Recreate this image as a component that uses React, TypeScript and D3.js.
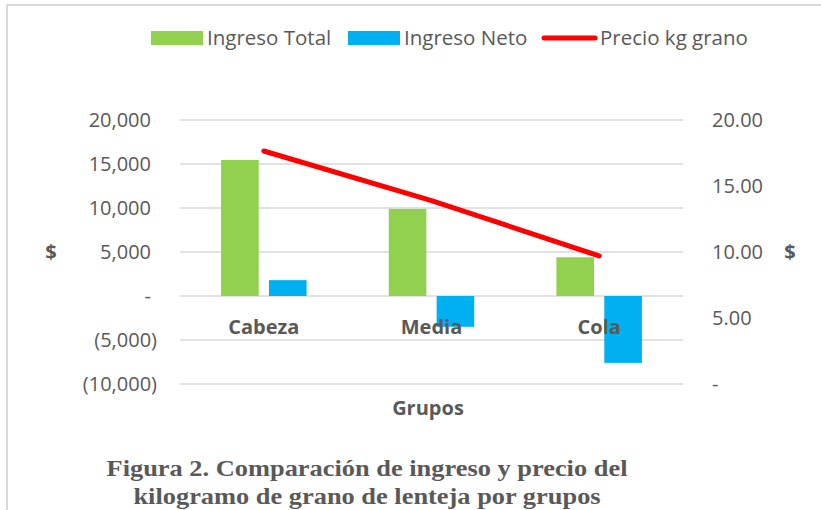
import React, { useEffect, useRef } from "react";
import * as d3 from "d3";

const categories = ["Cabeza", "Media", "Cola"];
const ingresoTotal = [15450, 9900, 4400];
const ingresoNeto = [1800, -3500, -7600];
const precioKg = [17.65, 13.9, 9.7];
const leftTicks = [-10000, -5000, 0, 5000, 10000, 15000, 20000];
const rightTicks = [0, 5, 10, 15, 20];

const GREEN = "#92d050";
const BLUE = "#00b0f0";
const RED = "#ff0000";
const GRAY = "#595959";
const GRID = "#d9d9d9";
const FONT = "'Open Sans', sans-serif";

const App = () => {
  const ref = useRef<SVGSVGElement>(null);

  useEffect(() => {
    draw();
  });

  const draw = () => {
    const svg = d3.select(ref.current);
    svg.selectAll("*").remove();

    const left = 180;
    const right = 683;
    const top = 120;
    const bottom = 384;

    const yLeft = d3.scaleLinear().domain([-10000, 20000]).range([bottom, top]);
    const yRight = d3.scaleLinear().domain([0, 20]).range([bottom, top]);
    const x0 = d3.scaleBand().domain(categories).range([left, right]);
    const bw = x0.bandwidth();
    const x1 = d3
      .scaleBand()
      .domain(["total", "neto"])
      .range([bw * 0.245, bw * 0.755])
      .paddingInner(0.214);

    // border
    svg
      .append("path")
      .attr("d", "M7,510 V5 H821")
      .attr("fill", "none")
      .attr("stroke", GRID)
      .attr("stroke-width", 2);

    // gridlines
    svg
      .selectAll("line.grid")
      .data(leftTicks)
      .enter()
      .append("line")
      .attr("x1", left)
      .attr("x2", right)
      .attr("y1", (d) => yLeft(d))
      .attr("y2", (d) => yLeft(d))
      .attr("stroke", GRID)
      .attr("stroke-width", 1.5);

    // left tick labels
    svg
      .selectAll("text.yl")
      .data(leftTicks)
      .enter()
      .append("text")
      .attr("x", (d) => (d < 0 ? 157 : 151))
      .attr("y", (d) => yLeft(d) + 7)
      .attr("text-anchor", "end")
      .attr("font-family", FONT)
      .attr("font-size", 20)
      .attr("fill", GRAY)
      .text((d) =>
        d === 0 ? "-" : d < 0 ? `(${d3.format(",")(-d)})` : d3.format(",")(d)
      );

    // right tick labels
    svg
      .selectAll("text.yr")
      .data(rightTicks)
      .enter()
      .append("text")
      .attr("x", 712)
      .attr("y", (d) => yRight(d) + 7)
      .attr("font-family", FONT)
      .attr("font-size", 20)
      .attr("fill", GRAY)
      .text((d) => (d === 0 ? "-" : d3.format(".2f")(d)));

    // bars
    const g = svg
      .selectAll("g.cat")
      .data(categories)
      .enter()
      .append("g")
      .attr("transform", (d) => `translate(${x0(d)},0)`);

    g.append("rect")
      .attr("x", x1("total")!)
      .attr("width", x1.bandwidth())
      .attr("y", (d, i) => yLeft(Math.max(0, ingresoTotal[i])))
      .attr("height", (d, i) => Math.abs(yLeft(ingresoTotal[i]) - yLeft(0)))
      .attr("fill", GREEN);

    g.append("rect")
      .attr("x", x1("neto")!)
      .attr("width", x1.bandwidth())
      .attr("y", (d, i) => yLeft(Math.max(0, ingresoNeto[i])))
      .attr("height", (d, i) => Math.abs(yLeft(ingresoNeto[i]) - yLeft(0)))
      .attr("fill", BLUE);

    // category labels
    svg
      .selectAll("text.cat")
      .data(categories)
      .enter()
      .append("text")
      .attr("x", (d) => x0(d)! + bw / 2)
      .attr("y", 334)
      .attr("text-anchor", "middle")
      .attr("font-family", FONT)
      .attr("font-weight", "bold")
      .attr("font-size", 20)
      .attr("fill", GRAY)
      .text((d) => d);

    // price line
    const line = d3
      .line<number>()
      .x((d, i) => x0(categories[i])! + bw / 2)
      .y((d) => yRight(d));
    svg
      .append("path")
      .datum(precioKg)
      .attr("d", line)
      .attr("fill", "none")
      .attr("stroke", RED)
      .attr("stroke-width", 5)
      .attr("stroke-linecap", "round");

    // axis titles
    svg
      .append("text")
      .attr("x", 428)
      .attr("y", 415)
      .attr("text-anchor", "middle")
      .attr("font-family", FONT)
      .attr("font-weight", "bold")
      .attr("font-size", 20)
      .attr("fill", GRAY)
      .text("Grupos");
    [51, 790].forEach((xp) =>
      svg
        .append("text")
        .attr("x", xp)
        .attr("y", 259)
        .attr("text-anchor", "middle")
        .attr("font-family", FONT)
        .attr("font-weight", "bold")
        .attr("font-size", 20)
        .attr("fill", GRAY)
        .text("$")
    );

    // legend
    const legend = [
      { label: "Ingreso Total", color: GREEN, type: "rect", x: 151 },
      { label: "Ingreso Neto", color: BLUE, type: "rect", x: 348 },
      { label: "Precio kg grano", color: RED, type: "line", x: 542 },
    ];
    legend.forEach((l) => {
      if (l.type === "rect") {
        svg
          .append("rect")
          .attr("x", l.x)
          .attr("y", 31)
          .attr("width", 52)
          .attr("height", 14)
          .attr("fill", l.color);
      } else {
        svg
          .append("line")
          .attr("x1", l.x + 2)
          .attr("x2", l.x + 53)
          .attr("y1", 38)
          .attr("y2", 38)
          .attr("stroke", l.color)
          .attr("stroke-width", 5)
          .attr("stroke-linecap", "round");
      }
      svg
        .append("text")
        .attr("x", l.x + (l.type === "rect" ? 56 : 58))
        .attr("y", 45)
        .attr("font-family", FONT)
        .attr("font-size", 20.5)
        .attr("fill", GRAY)
        .text(l.label);
    });

    // caption (slightly stretched horizontally like the source figure)
    ["Figura 2. Comparación de ingreso y precio del", "kilogramo de grano de lenteja por grupos"].forEach(
      (t, i) =>
        svg
          .append("text")
          .attr("transform", `translate(367,${476 + i * 28}) scale(1.1,1)`)
          .attr("text-anchor", "middle")
          .attr("font-family", "'Liberation Serif', serif")
          .attr("font-weight", "bold")
          .attr("font-size", 24)
          .attr("fill", GRAY)
          .text(t)
    );
  };

  return (
    <svg
      ref={ref}
      width={821}
      height={510}
      style={{ position: "absolute", left: 0, top: 0, background: "#fff" }}
    />
  );
};

export default App;
